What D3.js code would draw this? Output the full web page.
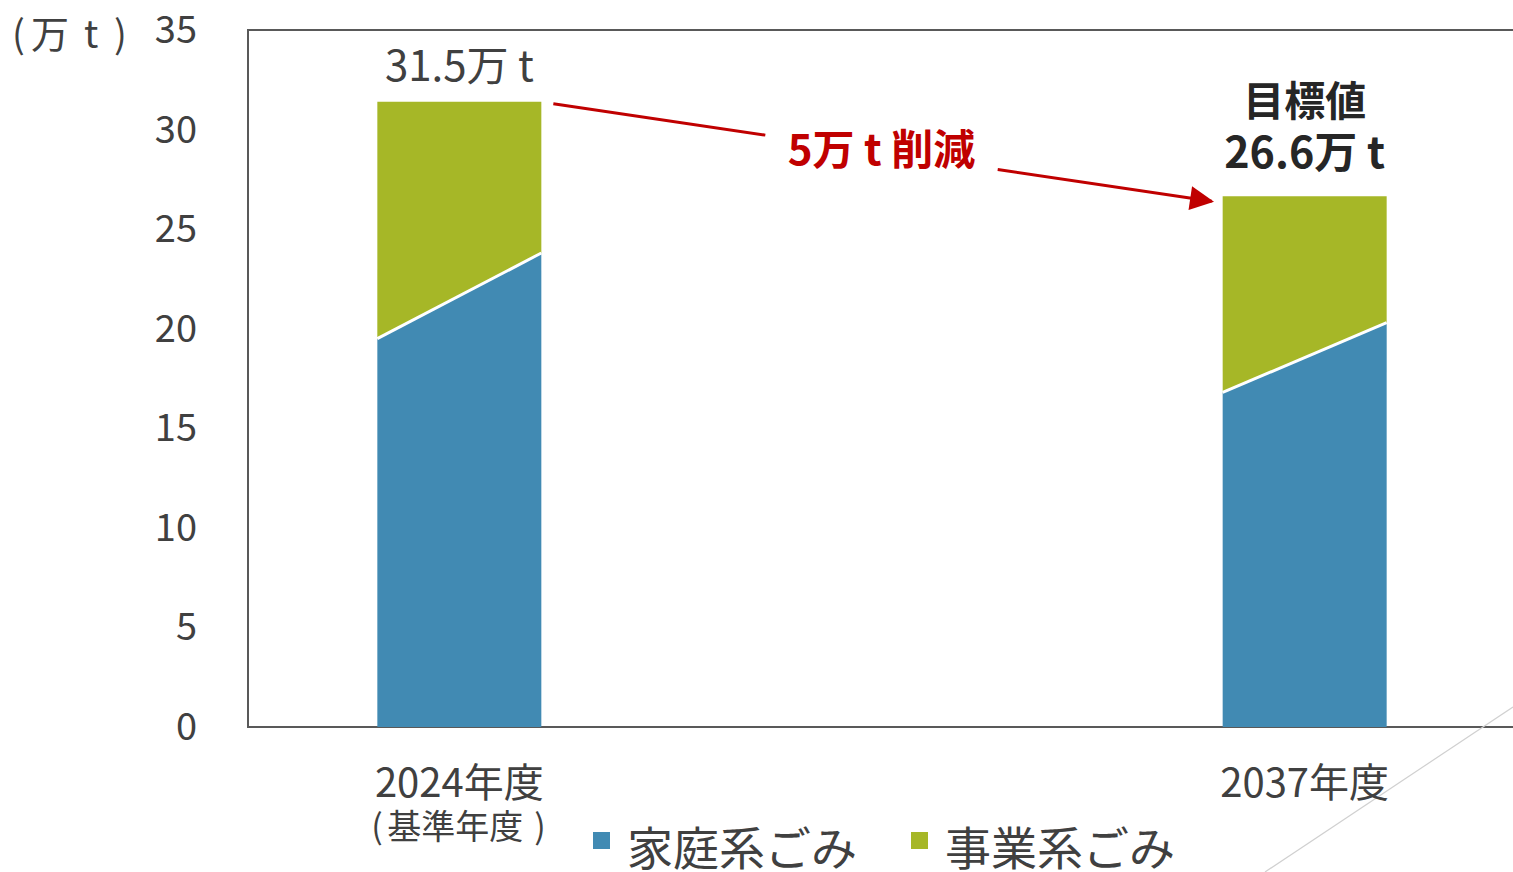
<!DOCTYPE html>
<html>
<head>
<meta charset="utf-8">
<script src="https://cdn.jsdelivr.net/npm/d3@7"></script>
<style>
  body { margin: 0; background: #fff; }
  svg { display: block; }
  text { font-family: "Noto Sans CJK JP", "Noto Sans", sans-serif; fill: #404040; }
</style>
</head>
<body>
<svg id="chart"></svg>
<script>
// data
const categories = ["2024年度", "2037年度"];
const subLabels = ["基準年度", ""];
// household waste: the boundary is slanted, so a left-edge and right-edge value
const householdLeft = [19.5, 16.8];
const householdRight = [23.8, 20.3];
const totals = [31.4, 26.65];
const totalLabels = ["31.5万 t", "26.6万 t"];
const seriesNames = ["家庭系ごみ", "事業系ごみ"];
const seriesColors = ["#418AB3", "#A6B727"];
const yTicks = [0, 5, 10, 15, 20, 25, 30, 35];

const W = 1513, H = 872;
const margin = { top: 30, right: -3, bottom: 145, left: 248 };

const svg = d3.select("#chart").attr("width", W).attr("height", H);

const y = d3.scaleLinear().domain([0, 35]).range([H - margin.bottom, margin.top]);
const x = d3.scalePoint().domain(categories).range([margin.left, W - margin.right]).padding(0.25);
const barW = 164;

// frame (left, top, bottom)
const frame = svg.append("g").attr("stroke", "#595959").attr("stroke-width", 2).attr("fill", "none");
frame.append("path")
  .attr("d", `M${W + 5},${y(35)} H${margin.left} V${y(0)} H${W + 5}`);

// decorative corner line
svg.append("line")
  .attr("x1", W).attr("y1", 707).attr("x2", 1265).attr("y2", H)
  .attr("stroke", "#d0d0d0").attr("stroke-width", 1.2);

// y tick labels
svg.append("g").selectAll("text")
  .data(yTicks)
  .join("text")
  .attr("x", 197)
  .attr("y", d => y(d) + 13)
  .attr("text-anchor", "end")
  .attr("font-size", 38)
  .text(d => d);

// unit label, pieces spread out like the original
const unit = svg.append("text").attr("y", 48).attr("font-size", 38);
unit.append("tspan").attr("x", 12).text("(");
unit.append("tspan").attr("x", 31).text("万");
unit.append("tspan").attr("x", 84).text("t");
unit.append("tspan").attr("x", 114).text(")");

// bars
const bars = svg.append("g").selectAll("g")
  .data(categories)
  .join("g");

bars.each(function(c, i) {
  const g = d3.select(this);
  const x0 = x(c) - barW / 2, x1 = x(c) + barW / 2;
  g.append("path")
    .attr("fill", seriesColors[0])
    .attr("d", `M${x0},${y(0)} L${x1},${y(0)} L${x1},${y(householdRight[i])} L${x0},${y(householdLeft[i])} Z`);
  g.append("path")
    .attr("fill", seriesColors[1])
    .attr("d", `M${x0},${y(householdLeft[i])} L${x1},${y(householdRight[i])} L${x1},${y(totals[i])} L${x0},${y(totals[i])} Z`);
  g.append("line")
    .attr("x1", x0).attr("y1", y(householdLeft[i]))
    .attr("x2", x1).attr("y2", y(householdRight[i]))
    .attr("stroke", "#fff").attr("stroke-width", 3);

  g.append("text")
    .attr("x", x(c)).attr("y", 797)
    .attr("text-anchor", "middle")
    .attr("font-size", 40)
    .text(c);
  if (subLabels[i]) {
    const t = g.append("text").attr("y", 839).attr("font-size", 34);
    t.append("tspan").attr("x", x(c) - 88).text("(");
    t.append("tspan").attr("x", x(c) - 72).text(subLabels[i]);
    t.append("tspan").attr("x", x(c) + 75).text(")");
  }
});

// total labels
svg.append("text")
  .attr("x", x(categories[0])).attr("y", y(totals[0]) - 21)
  .attr("text-anchor", "middle")
  .attr("font-size", 42)
  .text(totalLabels[0]);

svg.append("text")
  .attr("x", x(categories[1])).attr("y", y(totals[1]) - 80)
  .attr("text-anchor", "middle")
  .attr("font-size", 41).attr("font-weight", 700)
  .style("fill", "#262626")
  .text("目標値");
svg.append("text")
  .attr("x", x(categories[1])).attr("y", y(totals[1]) - 28)
  .attr("text-anchor", "middle")
  .attr("font-size", 43).attr("font-weight", 700)
  .style("fill", "#262626")
  .text(totalLabels[1]);

// reduction arrow
const red = "#C00000";
svg.append("defs").append("marker")
  .attr("id", "arrow")
  .attr("viewBox", "0 0 10 10")
  .attr("refX", 9).attr("refY", 5)
  .attr("markerWidth", 26).attr("markerHeight", 24)
  .attr("markerUnits", "userSpaceOnUse")
  .attr("orient", "auto")
  .append("path").attr("d", "M0,0 L10,5 L0,10 Z").attr("fill", red);

const ax0 = x(categories[0]) + barW / 2 + 12, ay0 = y(totals[0]) + 2;
const ax1 = x(categories[1]) - barW / 2 - 11, ay1 = y(totals[1]) + 5;
const at = t => [ax0 + (ax1 - ax0) * t, ay0 + (ay1 - ay0) * t];
const [sx1, sy1] = at(0.322), [sx2, sy2] = at(0.675);
svg.append("line")
  .attr("x1", ax0).attr("y1", ay0).attr("x2", sx1).attr("y2", sy1)
  .attr("stroke", red).attr("stroke-width", 3);
svg.append("line")
  .attr("x1", sx2).attr("y1", sy2).attr("x2", ax1).attr("y2", ay1)
  .attr("stroke", red).attr("stroke-width", 3)
  .attr("marker-end", "url(#arrow)");
svg.append("text")
  .attr("x", (sx1 + sx2) / 2).attr("y", 165)
  .attr("text-anchor", "middle")
  .attr("font-size", 42).attr("font-weight", 700)
  .style("fill", red)
  .text("5万 t 削減");

// legend
const legend = svg.append("g").selectAll("g")
  .data(seriesNames)
  .join("g")
  .attr("transform", (d, i) => `translate(${593 + i * 318},832)`);
legend.append("rect")
  .attr("width", 17).attr("height", 17)
  .attr("fill", (d, i) => seriesColors[i]);
legend.append("text")
  .attr("x", 34).attr("y", 33)
  .attr("font-size", 46)
  .text(d => d);
</script>
</body>
</html>
